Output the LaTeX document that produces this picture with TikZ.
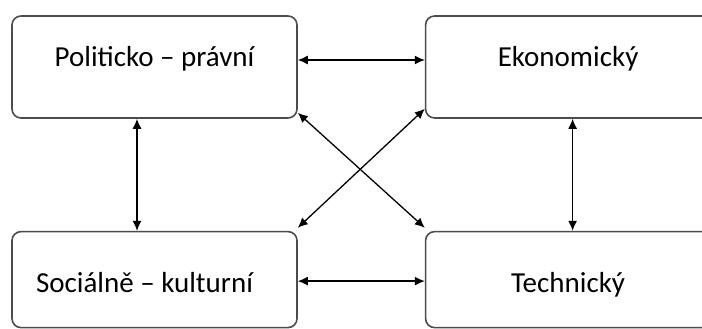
\documentclass[tikz,border=0pt]{standalone}
\usepackage{fontspec}
\setmainfont{Carlito}
\usepackage{tikz}
\usetikzlibrary{arrows.meta,positioning}

\begin{document}
\begin{tikzpicture}[x=1pt,y=1pt,font=\fontsize{29}{34}\selectfont]
		\tikzstyle{area} = [rectangle, rounded corners=9pt, minimum width=285pt, 
		minimum height=102pt, draw=black!70, line width=1.6pt, fill=white]
		\tikzstyle{arrow} = [line width=1.3pt,{Latex[length=10pt,width=9pt]}-{Latex[length=10pt,width=9pt]}]
		\clip (0,0) rectangle (702,329);
		\fill [white] (0,0) rectangle (702,329);
		\node (political) [area, label={[yshift=8pt]center:Politicko – právní}] at (154.5,262) {};
		\node (economic) [area, right=127pt of political, label={[yshift=8pt]center:Ekonomický}] {};
		\node (social) [area, minimum height=96pt, below=112pt of political, label={[xshift=-10pt, yshift=-2.5pt]center:Sociálně – kulturní}] {};
		\node (technical) [area, minimum height=96pt, below=112pt of economic, label={[yshift=-5pt]center:Technický}] {};
		\draw [arrow] ([yshift=7pt]political.east) -- ([yshift=7pt]economic.west);
		\draw [arrow] ([yshift=-1.5pt]social.east) -- ([yshift=-1.5pt]technical.west);
		\draw [arrow] ([xshift=-17.5pt]political.south) -- ([xshift=-17.5pt]social.north);
		\draw [arrow] ([xshift=4.5pt]economic.south) -- ([xshift=4.5pt]technical.north);
		\draw [arrow] ([yshift=6pt]political.south east) -- ([yshift=3pt]technical.north west);
		\draw [arrow] ([yshift=10pt]economic.south west) -- ([yshift=3pt]social.north east);
		\end{tikzpicture}
\end{document}
